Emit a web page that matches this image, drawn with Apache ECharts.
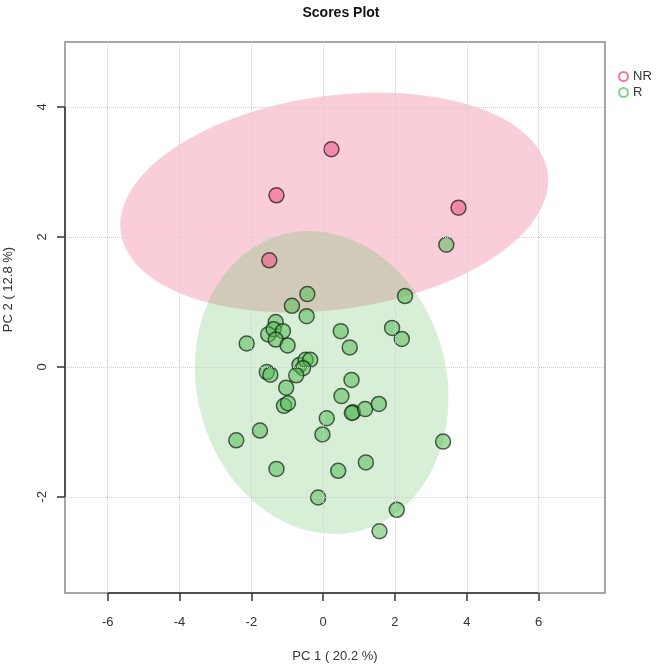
<!DOCTYPE html>
<html>
<head>
<meta charset="utf-8">
<title>Scores Plot</title>
<script src="https://cdn.jsdelivr.net/npm/echarts@6/dist/echarts.min.js"></script>
<style>
  html, body { margin: 0; padding: 0; background: #fff; }
  #chart { width: 664px; height: 665px; }
</style>
</head>
<body>
<div id="chart"></div>
<script>
// group scores
const nrX = [0.23, -1.30, 3.77, -1.50];
const nrY = [3.35, 2.64, 2.45, 1.64];

const rX = [3.43, -0.44, -0.87, 2.28, -0.46, -1.32, -1.53, -1.38, -1.12, -1.32, -2.13,
  -0.99, 0.49, 0.74, 1.92, 2.19, -1.57, -1.47, -0.66, -0.49, -0.36, -0.56, -0.75,
  -1.03, -1.09, -0.98, 0.79, 0.51, 0.83, 0.80, 1.17, 1.55, 0.10, -0.02, -1.76,
  -2.42, -1.30, 0.42, 1.19, 3.34, -0.14, 2.05, 1.57];
const rY = [1.88, 1.12, 0.94, 1.09, 0.78, 0.69, 0.50, 0.58, 0.55, 0.42, 0.36,
  0.33, 0.55, 0.30, 0.60, 0.43, -0.08, -0.12, 0.03, 0.11, 0.11, -0.02, -0.13,
  -0.32, -0.60, -0.56, -0.20, -0.45, -0.70, -0.71, -0.65, -0.57, -0.79, -1.04, -0.98,
  -1.13, -1.57, -1.60, -1.47, -1.15, -2.01, -2.20, -2.53];

// confidence ellipses: centre, spread along each axis, correlation
const ellipseGroups = ['NR', 'R'];
const ellipseCx = [0.31, -0.04];
const ellipseCy = [2.53, -0.24];
const ellipseSx = [5.96, 3.53];
const ellipseSy = [1.69, 2.33];
const ellipseR = [0.205, -0.10];

const xTicks = [-6, -4, -2, 0, 2, 4, 6];
const yTicks = [-2, 0, 2, 4];
const xRange = [-7.19, 7.85];
const yRange = [-3.48, 5.0];

const pinkFill = 'rgba(238,90,138,0.6)';
const greenFill = 'rgba(90,190,90,0.55)';
const ellipseColors = ['rgb(231,59,103)', 'rgb(91,191,91)'];
const font = '"Liberation Sans", Arial, sans-serif';

const chart = echarts.init(document.getElementById('chart'));

const toPairs = (xs, ys) => xs.map((x, i) => [x, ys[i]]);

const gridLines = [
  ...xTicks.map(v => ({ xAxis: v })),
  ...yTicks.map(v => ({ yAxis: v })),
];
const axisStroke = { color: '#333', width: 1.5, type: 'solid' };
const axisSegments = [
  [{ coord: [xTicks[0], yRange[0]], lineStyle: axisStroke }, { coord: [xTicks[xTicks.length - 1], yRange[0]] }],
  [{ coord: [xRange[0], yTicks[0]], lineStyle: axisStroke }, { coord: [xRange[0], yTicks[yTicks.length - 1]] }],
];

function renderEllipse(params, api) {
  const i = api.value(0);
  const cx = ellipseCx[i], cy = ellipseCy[i];
  const sx = ellipseSx[i], sy = ellipseSy[i], r = ellipseR[i];
  const k = Math.sqrt(1 - r * r);
  const pts = [];
  for (let s = 0; s < 120; s++) {
    const t = (s / 120) * Math.PI * 2;
    pts.push(api.coord([cx + sx * Math.cos(t), cy + sy * (r * Math.cos(t) + k * Math.sin(t))]));
  }
  return {
    type: 'polygon',
    shape: { points: pts },
    style: { fill: ellipseColors[i], opacity: 0.25 },
  };
}

const option = {
  animation: false,
  backgroundColor: '#fff',
  textStyle: { fontFamily: font },
  title: {
    text: 'Scores Plot',
    left: 336,
    top: 1,
    textAlign: 'center',
    textStyle: { fontSize: 14, fontWeight: 'bold', color: '#111', fontFamily: font },
  },
  legend: {
    orient: 'vertical',
    left: 613,
    top: 65,
    itemWidth: 9,
    itemHeight: 9,
    itemGap: 3,
    icon: 'circle',
    textStyle: { fontSize: 13, color: '#333', fontFamily: font },
    data: [
      { name: 'NR', itemStyle: { color: 'transparent', borderColor: '#f0779c', borderWidth: 2 } },
      { name: 'R', itemStyle: { color: 'transparent', borderColor: '#86d086', borderWidth: 2 } },
    ],
  },
  grid: {
    left: 65,
    right: 59,
    top: 42,
    bottom: 72,
    outerBoundsMode: 'none',
    containLabel: false,
    show: true,
    borderColor: '#8a8a8a',
    borderWidth: 1.5,
    backgroundColor: 'transparent',
  },
  xAxis: {
    type: 'value',
    min: xRange[0],
    max: xRange[1],
    name: 'PC 1 ( 20.2 %)',
    nameLocation: 'middle',
    nameGap: 57,
    nameTextStyle: { fontSize: 13, color: '#333', fontFamily: font },
    axisLine: { show: false, onZero: false },
    axisTick: { show: true, inside: false, length: 8, customValues: xTicks, lineStyle: { color: '#333', width: 1.5 } },
    axisLabel: { customValues: xTicks, margin: 23, fontSize: 13, color: '#333', fontFamily: font },
    splitLine: { show: false },
  },
  yAxis: {
    type: 'value',
    min: yRange[0],
    max: yRange[1],
    name: 'PC 2 ( 12.8 %)',
    nameLocation: 'middle',
    nameGap: 50,
    nameRotate: 90,
    nameTextStyle: { fontSize: 13, color: '#333', fontFamily: font, padding: [0, 0, 0, 56] },
    axisLine: { show: false, onZero: false },
    axisTick: { show: true, inside: false, length: 8, customValues: yTicks, lineStyle: { color: '#333', width: 1.5 } },
    axisLabel: { customValues: yTicks, rotate: 90, margin: 16, fontSize: 13, color: '#333', fontFamily: font },
    splitLine: { show: false },
  },
  series: [
    {
      name: 'ellipses',
      type: 'custom',
      renderItem: renderEllipse,
      data: ellipseGroups.map((g, i) => [i]),
      silent: true,
      z: 1,
    },
    {
      name: 'NR',
      type: 'scatter',
      data: toPairs(nrX, nrY),
      symbolSize: 15,
      itemStyle: { color: pinkFill, borderColor: 'rgba(40,30,30,0.75)', borderWidth: 1.5, opacity: 1 },
      z: 3,
    },
    {
      name: 'R',
      type: 'scatter',
      data: toPairs(rX, rY),
      symbolSize: 15,
      itemStyle: { color: greenFill, borderColor: 'rgba(20,30,20,0.7)', borderWidth: 1.5, opacity: 1 },
      z: 3,
      markLine: {
        silent: true,
        symbol: 'none',
        label: { show: false },
        lineStyle: { color: '#cfcfcf', type: 'dotted', width: 1 },
        data: [...gridLines, ...axisSegments],
      },
    },
  ],
};

chart.setOption(option);
</script>
</body>
</html>
